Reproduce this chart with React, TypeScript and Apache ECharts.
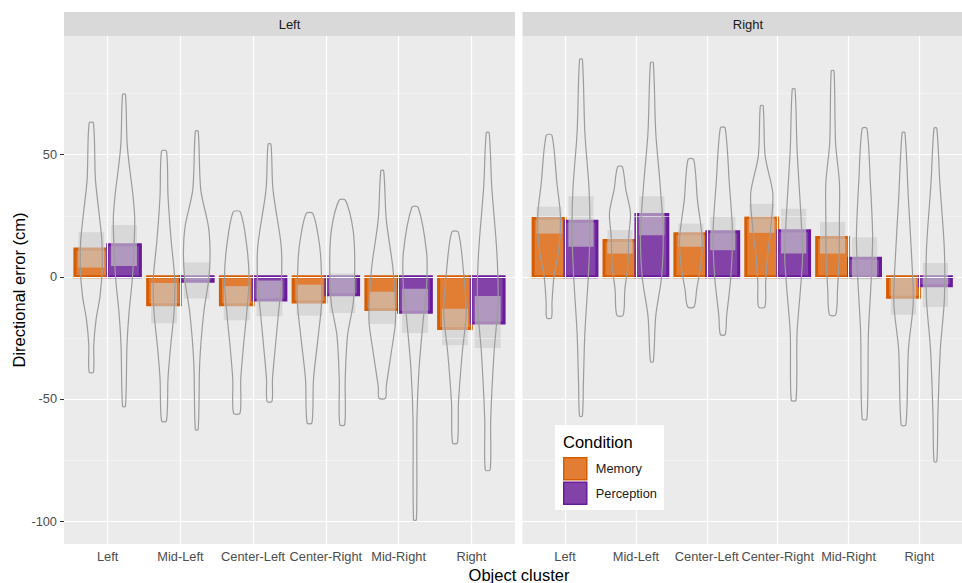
import React, { useEffect, useRef } from "react";
import * as echarts from "echarts";

// ---------- data ----------
const clusters = ["Left", "Mid-Left", "Center-Left", "Center-Right", "Mid-Right", "Right"];
const facets = ["Left", "Right"];
const conditions = ["Memory", "Perception"];
const yTicks = [-100, -50, 0, 50];
const yMinorTicks = [-75, -25, 25, 75];

// mean directional error (bars)
const leftMemoryMean = [11.4, -11.4, -11.4, -10.3, -13.4, -21.2];
const leftPerceptionMean = [13.1, -1.8, -9.5, -7.3, -14.5, -18.9];
const rightMemoryMean = [23.9, 14.9, 17.6, 24.3, 16.1, -8.4];
const rightPerceptionMean = [22.8, 25.5, 18.4, 18.9, 7.6, -3.7];

// grey boxes [low, high]
const leftMemoryBox = [[3.8, 18.3], [-19.0, -2.5], [-17.8, -3.8], [-15.9, -3.2], [-19.3, -6.1], [-28.0, -13.1]];
const leftPerceptionBox = [[4.4, 21.2], [-8.9, 6.0], [-16.1, -1.5], [-14.8, 1.4], [-23.0, -4.9], [-29.1, -7.9]];
const rightMemoryBox = [[17.7, 28.7], [9.5, 19.1], [12.3, 21.8], [18.0, 29.9], [9.5, 22.4], [-15.5, -0.4]];
const rightPerceptionBox = [[12.3, 33.0], [17.0, 33.0], [10.9, 24.6], [9.5, 27.9], [-1.1, 16.2], [-12.4, 5.7]];

// violin outlines: [value, half width in category units], top to bottom
const leftMemoryViolin = [
  [[63, 0.03], [40, 0.057], [26, 0.107], [15, 0.145], [3, 0.15], [-8, 0.12], [-17.5, 0.066], [-28, 0.034], [-39, 0.03]],
  [[51.5, 0.034], [33, 0.055], [15.5, 0.096], [-1, 0.147], [-14.7, 0.137], [-28, 0.092], [-41.5, 0.055], [-59, 0.034]],
  [[26.5, 0.05], [12.8, 0.137], [-1, 0.169], [-14.7, 0.137], [-28.4, 0.092], [-42, 0.055], [-55.8, 0.045]],
  [[25.9, 0.045], [16.6, 0.12], [7.6, 0.155], [-10.7, 0.165], [-24.3, 0.12], [-42, 0.055], [-59.8, 0.034]],
  [[43.4, 0.02], [23.5, 0.055], [3, 0.148], [-17.5, 0.183], [-31, 0.124], [-45, 0.055], [-49.7, 0.045]],
  [[18.3, 0.045], [3, 0.114], [-14.7, 0.154], [-31, 0.1], [-51.5, 0.048], [-68, 0.034]],
];
const leftPerceptionViolin = [
  [[74.7, 0.02], [53.5, 0.045], [33, 0.124], [24, 0.147], [11.6, 0.137], [-1, 0.114], [-14.7, 0.069], [-28, 0.041], [-53, 0.02]],
  [[59.6, 0.02], [35.7, 0.055], [20.7, 0.16], [9.7, 0.183], [-1, 0.165], [-14.7, 0.096], [-35, 0.041], [-62.5, 0.02]],
  [[54.3, 0.02], [35.7, 0.048], [12.8, 0.16], [-1, 0.165], [-14.7, 0.124], [-28, 0.082], [-42, 0.041], [-51, 0.034]],
  [[31.3, 0.045], [19.4, 0.148], [5.8, 0.172], [-10.7, 0.151], [-24, 0.073], [-42, 0.041], [-60.5, 0.034]],
  [[28.4, 0.045], [9.8, 0.16], [-3.8, 0.16], [-17.5, 0.114], [-38, 0.055], [-58.5, 0.027], [-99.5, 0.02]],
  [[59, 0.02], [37, 0.055], [9.8, 0.126], [-10.7, 0.141], [-31, 0.087], [-58.5, 0.041], [-79, 0.034]],
];
const rightMemoryViolin = [
  [[57.9, 0.041], [38.5, 0.11], [24.8, 0.16], [11.2, 0.137], [0, 0.069], [-10.7, 0.041], [-16.8, 0.034]],
  [[45, 0.034], [35.8, 0.082], [26.2, 0.148], [16.7, 0.124], [4.4, 0.11], [-5.2, 0.069], [-15.7, 0.045]],
  [[48, 0.041], [31.7, 0.092], [15.3, 0.16], [4.4, 0.137], [-5.2, 0.082], [-12.3, 0.045]],
  [[70, 0.02], [49.5, 0.048], [34.4, 0.155], [20.8, 0.13], [8.5, 0.082], [-2.5, 0.055], [-12.3, 0.045]],
  [[84.3, 0.02], [55, 0.041], [38.5, 0.096], [24.8, 0.096], [8.5, 0.092], [-5.2, 0.069], [-15.5, 0.045]],
  [[59, 0.02], [31.7, 0.069], [8.5, 0.114], [-10.7, 0.137], [-29.8, 0.069], [-60.6, 0.034]],
];
const rightPerceptionViolin = [
  [[89, 0.02], [59, 0.055], [35.8, 0.114], [18, 0.126], [0, 0.103], [-23, 0.055], [-43.4, 0.034], [-57, 0.02]],
  [[87.7, 0.02], [59, 0.055], [38.5, 0.114], [18, 0.16], [0, 0.137], [-16, 0.055], [-34.8, 0.02]],
  [[61, 0.034], [38.5, 0.092], [18, 0.137], [0, 0.114], [-16, 0.055], [-23.6, 0.034]],
  [[76.8, 0.02], [52.2, 0.048], [24.8, 0.103], [8.5, 0.126], [-5.2, 0.096], [-23, 0.048], [-50.5, 0.034]],
  [[60.8, 0.034], [38.5, 0.082], [16.7, 0.114], [-2.5, 0.092], [-23, 0.055], [-58.2, 0.034]],
  [[60.8, 0.02], [38.5, 0.062], [11.2, 0.126], [-9.3, 0.126], [-29.8, 0.069], [-57.2, 0.034], [-75.6, 0.02]],
];

// ---------- styles ----------
const FONT = "'Liberation Sans', Arial, sans-serif";
const COND_STYLE: Record<string, { fill: string; stroke: string; offset: number }> = {
  Memory: { fill: "#E27E33", stroke: "#D65C02", offset: -0.225 },
  Perception: { fill: "#8242A8", stroke: "#6A1B99", offset: 0.225 },
};
const BAR_HALF = 0.225;
const BOX_HALF = 0.178;

const panelData = [
  {
    facet: facets[0],
    Memory: { mean: leftMemoryMean, box: leftMemoryBox, violin: leftMemoryViolin },
    Perception: { mean: leftPerceptionMean, box: leftPerceptionBox, violin: leftPerceptionViolin },
  },
  {
    facet: facets[1],
    Memory: { mean: rightMemoryMean, box: rightMemoryBox, violin: rightMemoryViolin },
    Perception: { mean: rightPerceptionMean, box: rightPerceptionBox, violin: rightPerceptionViolin },
  },
];

const GRID_LEFT = [64, 522.5];
const GRID_W = 451;
const GRID_TOP = 36;
const GRID_H = 508;

function buildOption() {
  const series: any[] = [];
  const xAxis: any[] = [];
  const yAxis: any[] = [];
  const grid: any[] = [];
  const tickVals = clusters.map((_, i) => i + 1);

  panelData.forEach((panel, g) => {
    grid.push({
      left: GRID_LEFT[g],
      top: GRID_TOP,
      width: GRID_W,
      height: GRID_H,
      show: true,
      backgroundColor: "#EBEBEB",
      borderWidth: 0,
    });
    xAxis.push({
      type: "value",
      gridIndex: g,
      min: 0.4,
      max: 6.6,
      axisLine: { show: false },
      splitLine: { show: false },
      axisTick: { show: true, customValues: tickVals, length: 4, lineStyle: { color: "#333333", width: 1 } },
      axisLabel: {
        customValues: tickVals,
        formatter: (v: number) => clusters[Math.round(v) - 1] ?? "",
        color: "#4D4D4D",
        fontSize: 12.8,
        fontFamily: FONT,
        margin: 6,
      },
    });
    yAxis.push({
      type: "value",
      gridIndex: g,
      min: -109.4,
      max: 98.6,
      axisLine: { show: false },
      splitLine: { show: false },
      axisTick: { show: g === 0, customValues: yTicks, length: 4, lineStyle: { color: "#333333", width: 1 } },
      axisLabel: {
        show: g === 0,
        customValues: yTicks,
        color: "#4D4D4D",
        fontSize: 12.8,
        fontFamily: FONT,
        margin: 7,
      },
    });

    // gridlines
    series.push({
      type: "line",
      xAxisIndex: g,
      yAxisIndex: g,
      data: [[1, 0]],
      showSymbol: false,
      lineStyle: { opacity: 0 },
      silent: true,
      z: 1,
      markLine: {
        silent: true,
        symbol: ["none", "none"],
        label: { show: false },
        animation: false,
        lineStyle: { color: "#FFFFFF", type: "solid" },
        data: [
          ...yMinorTicks.map((v) => ({ yAxis: v, lineStyle: { width: 0.6, color: "#F7F7F7", type: "solid" } })),
          ...yTicks.map((v) => ({ yAxis: v, lineStyle: { width: 1.2, color: "#FFFFFF", type: "solid" } })),
          ...tickVals.map((v) => ({ xAxis: v, lineStyle: { width: 1.2, color: "#FFFFFF", type: "solid" } })),
        ],
      },
    });

    conditions.forEach((cond) => {
      const st = COND_STYLE[cond];
      const d = (panel as any)[cond];
      // bars
      series.push({
        type: "custom",
        name: cond,
        xAxisIndex: g,
        yAxisIndex: g,
        z: 3,
        itemStyle: { color: st.fill, borderColor: st.stroke },
        data: d.mean.map((m: number, i: number) => [i + 1, m]),
        encode: { x: 0, y: 1 },
        renderItem: (params: any, api: any) => {
          const x = api.value(0) + st.offset;
          const v = api.value(1);
          const a = api.coord([x - BAR_HALF, v]);
          const b = api.coord([x + BAR_HALF, 0]);
          return {
            type: "rect",
            shape: { x: a[0], y: Math.min(a[1], b[1]), width: b[0] - a[0], height: Math.abs(b[1] - a[1]) },
            style: { fill: st.fill, stroke: st.stroke, lineWidth: 3 },
          };
        },
      });
    });
    conditions.forEach((cond) => {
      const st = COND_STYLE[cond];
      const d = (panel as any)[cond];
      // grey boxes
      series.push({
        type: "custom",
        xAxisIndex: g,
        yAxisIndex: g,
        z: 4,
        silent: true,
        data: d.box.map((bx: number[], i: number) => [i + 1, bx[0], bx[1]]),
        encode: { x: 0, y: [1, 2] },
        renderItem: (params: any, api: any) => {
          const x = api.value(0) + st.offset;
          const a = api.coord([x - BOX_HALF, api.value(2)]);
          const b = api.coord([x + BOX_HALF, api.value(1)]);
          return {
            type: "rect",
            shape: { x: a[0], y: a[1], width: b[0] - a[0], height: b[1] - a[1] },
            style: { fill: "rgba(205,205,205,0.62)" },
          };
        },
      });
    });
    conditions.forEach((cond) => {
      const st = COND_STYLE[cond];
      const d = (panel as any)[cond];
      // violins
      series.push({
        type: "custom",
        xAxisIndex: g,
        yAxisIndex: g,
        z: 5,
        silent: true,
        data: d.violin.map((_: any, i: number) => [i + 1, d.violin[i][0][0]]),
        encode: { x: 0, y: 1 },
        renderItem: (params: any, api: any) => {
          const idx = params.dataIndex;
          const knots: number[][] = d.violin[idx];
          const c = api.value(0) + st.offset;
          const right = knots.map((k) => api.coord([c + k[1], k[0]]));
          const left = knots.slice().reverse().map((k) => api.coord([c - k[1], k[0]]));
          return {
            type: "polygon",
            shape: { points: right.concat(left), smooth: 0.3 },
            style: { fill: "none", stroke: "#9C9C9C", lineWidth: 1.2 },
          };
        },
      });
    });
  });

  const graphic: any[] = [];
  panelData.forEach((panel, g) => {
    graphic.push({
      type: "rect",
      shape: { x: GRID_LEFT[g], y: 12, width: GRID_W, height: 24 },
      style: { fill: "#D9D9D9" },
      z: 10,
    });
    graphic.push({
      type: "text",
      x: GRID_LEFT[g] + GRID_W / 2,
      y: 24,
      style: {
        text: panel.facet,
        fill: "#1A1A1A",
        font: `13px ${FONT}`,
        textAlign: "center",
        textVerticalAlign: "middle",
      },
      z: 11,
    });
  });
  graphic.push({
    type: "text",
    x: 19,
    y: GRID_TOP + GRID_H / 2,
    rotation: Math.PI / 2,
    style: {
      text: "Directional error (cm)",
      fill: "#000000",
      font: `16.5px ${FONT}`,
      textAlign: "center",
      textVerticalAlign: "middle",
    },
    z: 11,
  });
  graphic.push({
    type: "text",
    x: 519,
    y: 575,
    style: {
      text: "Object cluster",
      fill: "#000000",
      font: `16.5px ${FONT}`,
      textAlign: "center",
      textVerticalAlign: "middle",
    },
    z: 11,
  });
  // legend box
  graphic.push({
    type: "rect",
    shape: { x: 555, y: 425, width: 109, height: 85 },
    style: { fill: "#FFFFFF" },
    z: 12,
  });
  graphic.push({
    type: "text",
    x: 563,
    y: 442,
    style: {
      text: "Condition",
      fill: "#000000",
      font: `16.5px ${FONT}`,
      textAlign: "left",
      textVerticalAlign: "middle",
    },
    z: 13,
  });

  return {
    animation: false,
    backgroundColor: "#FFFFFF",
    grid,
    xAxis,
    yAxis,
    series,
    graphic,
    legend: {
      left: 563,
      top: 457,
      orient: "vertical",
      itemWidth: 23,
      itemHeight: 22,
      itemGap: 1,
      padding: 0,
      z: 20,
      selectedMode: false,
      icon: "rect",
      data: conditions.map((c) => ({
        name: c,
        itemStyle: { color: COND_STYLE[c].fill, borderColor: COND_STYLE[c].stroke, borderWidth: 1.5 },
      })),
      textStyle: { fontSize: 12.8, color: "#1A1A1A", fontFamily: FONT, padding: [0, 0, 0, 4] },
    },
  };
}

export default function App() {
  const ref = useRef<HTMLDivElement>(null);
  useEffect(() => {
    document.body.style.margin = "0";
    if (!ref.current) return;
    const chart = echarts.init(ref.current, undefined, { renderer: "svg" });
    chart.setOption(buildOption() as any);
    return () => chart.dispose();
  }, []);
  return <div ref={ref} style={{ width: 962, height: 583 }} />;
}
